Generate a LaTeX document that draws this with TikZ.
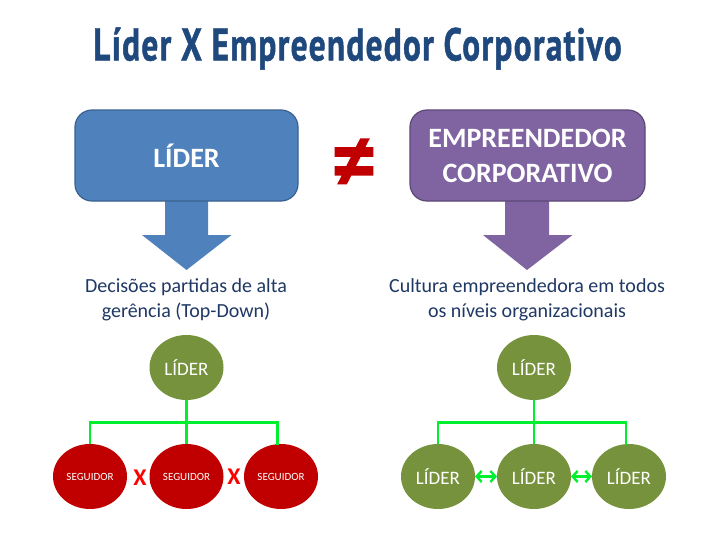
\documentclass[tikz,border=0pt]{standalone}
\usepackage{fontspec}
\setmainfont{Carlito}
\newfontfamily\titlefont[FakeStretch=0.72,LetterSpace=3,FakeBold=1]{PT Sans Bold}
\newfontfamily\symfont[FakeBold=3]{Liberation Sans Bold}
\usetikzlibrary{arrows.meta,shapes.geometric}
\definecolor{navy}{HTML}{1F3864}
\definecolor{titleblue}{HTML}{1F497D}
\definecolor{boxblue}{HTML}{4F81BD}
\definecolor{boxblueline}{HTML}{3A618F}
\definecolor{boxpurple}{HTML}{8064A2}
\definecolor{boxpurpleline}{HTML}{5C4776}
\definecolor{olive}{HTML}{76923C}
\definecolor{deepred}{HTML}{C00000}
\definecolor{linkgreen}{HTML}{00F030}
\definecolor{xred}{HTML}{FF0000}
\tikzset{
  every node/.style={inner sep=0pt,outer sep=0pt,align=center},
  bigbox/.style={draw,line width=1.2pt,rounded corners=17pt,text=white,font=\fontsize{28}{35}\selectfont\bfseries,minimum height=91pt},
  blobgreen/.style={ellipse,fill=olive,minimum width=74pt,minimum height=65pt,text=white},
  blobred/.style={ellipse,fill=deepred,minimum width=74pt,minimum height=65pt,text=white,font=\fontsize{11}{13}\selectfont},
  leadertext/.style={font=\fontsize{19}{22}\selectfont},
  caption/.style={text=navy,font=\fontsize{20}{25}\selectfont},
  link/.style={draw=linkgreen,line width=2.4pt},
  duallink/.style={draw=linkgreen,line width=2.4pt,{Straight Barb[length=5pt,width=11pt]}-{Straight Barb[length=5pt,width=11pt]}},
  cross/.style={text=xred,font=\fontsize{24}{25}\selectfont\bfseries}
}
\begin{document}
\begin{tikzpicture}[x=1pt,y=-1pt]
\useasboundingbox[fill=white] (0,0) rectangle (728,546);
\node[text=titleblue,font=\fontsize{46}{48}\titlefont] (title) at (357.5,48.5) {Líder X Empreendedor Corporativo};
\fill[boxblue] (165,200) -- (208,200) -- (208,235) -- (231.5,235) -- (186.5,270) -- (142,235) -- (165,235) -- cycle;
\fill[boxpurple] (505,200) -- (549,200) -- (549,235) -- (572.5,235) -- (527,270) -- (483,235) -- (505,235) -- cycle;
\node[bigbox,draw=boxblueline,fill=boxblue,minimum width=223pt] (lider) at (186.5,155.5) {LÍDER};
\node[bigbox,draw=boxpurpleline,fill=boxpurple,minimum width=235pt] (emp) at (527.5,155.5) {EMPREENDEDOR\\CORPORATIVO};
\node[text=deepred,font=\fontsize{70}{70}\symfont] (neq) at (354,162) {≠};
\node[caption] (capl) at (186,300) {Decisões partidas de alta\\gerência (Top-Down)};
\node[caption] (capr) at (527,300) {Cultura empreendedora em todos\\os níveis organizacionais};
\node[blobgreen,leadertext] (ltop) at (186.5,367.5) {LÍDER};
\node[blobred] (s1) at (90,476.5) {SEGUIDOR};
\node[blobred] (s2) at (186.5,476.5) {SEGUIDOR};
\node[blobred] (s3) at (281,476.5) {SEGUIDOR};
\coordinate (lbus) at (186.5,422.5);
\coordinate (ls3) at (277.5,444.5);
\draw[link] (ltop.south) -- (s2.north);
\draw[link] (s1.north) -- (s1.north |- lbus) -- (ls3 |- lbus) -- (ls3);
\node[cross] (x1) at (140,478) {X};
\node[cross] (x2) at (234,477) {X};
\node[blobgreen,leadertext] (rtop) at (534,367.5) {LÍDER};
\node[blobgreen,leadertext] (r1) at (438,476.5) {LÍDER};
\node[blobgreen,leadertext] (r2) at (534,476.5) {LÍDER};
\node[blobgreen,leadertext] (r3) at (629,476.5) {LÍDER};
\coordinate (rbus) at (534,422.5);
\coordinate (rr3) at (626,444.5);
\draw[link] (rtop.south) -- (r2.north);
\draw[link] (r1.north) -- (r1.north |- rbus) -- (rr3 |- rbus) -- (rr3);
\draw[duallink] (r1.east) -- (r2.west);
\draw[duallink] (r2.east) -- (r3.west);
\end{tikzpicture}
\end{document}
